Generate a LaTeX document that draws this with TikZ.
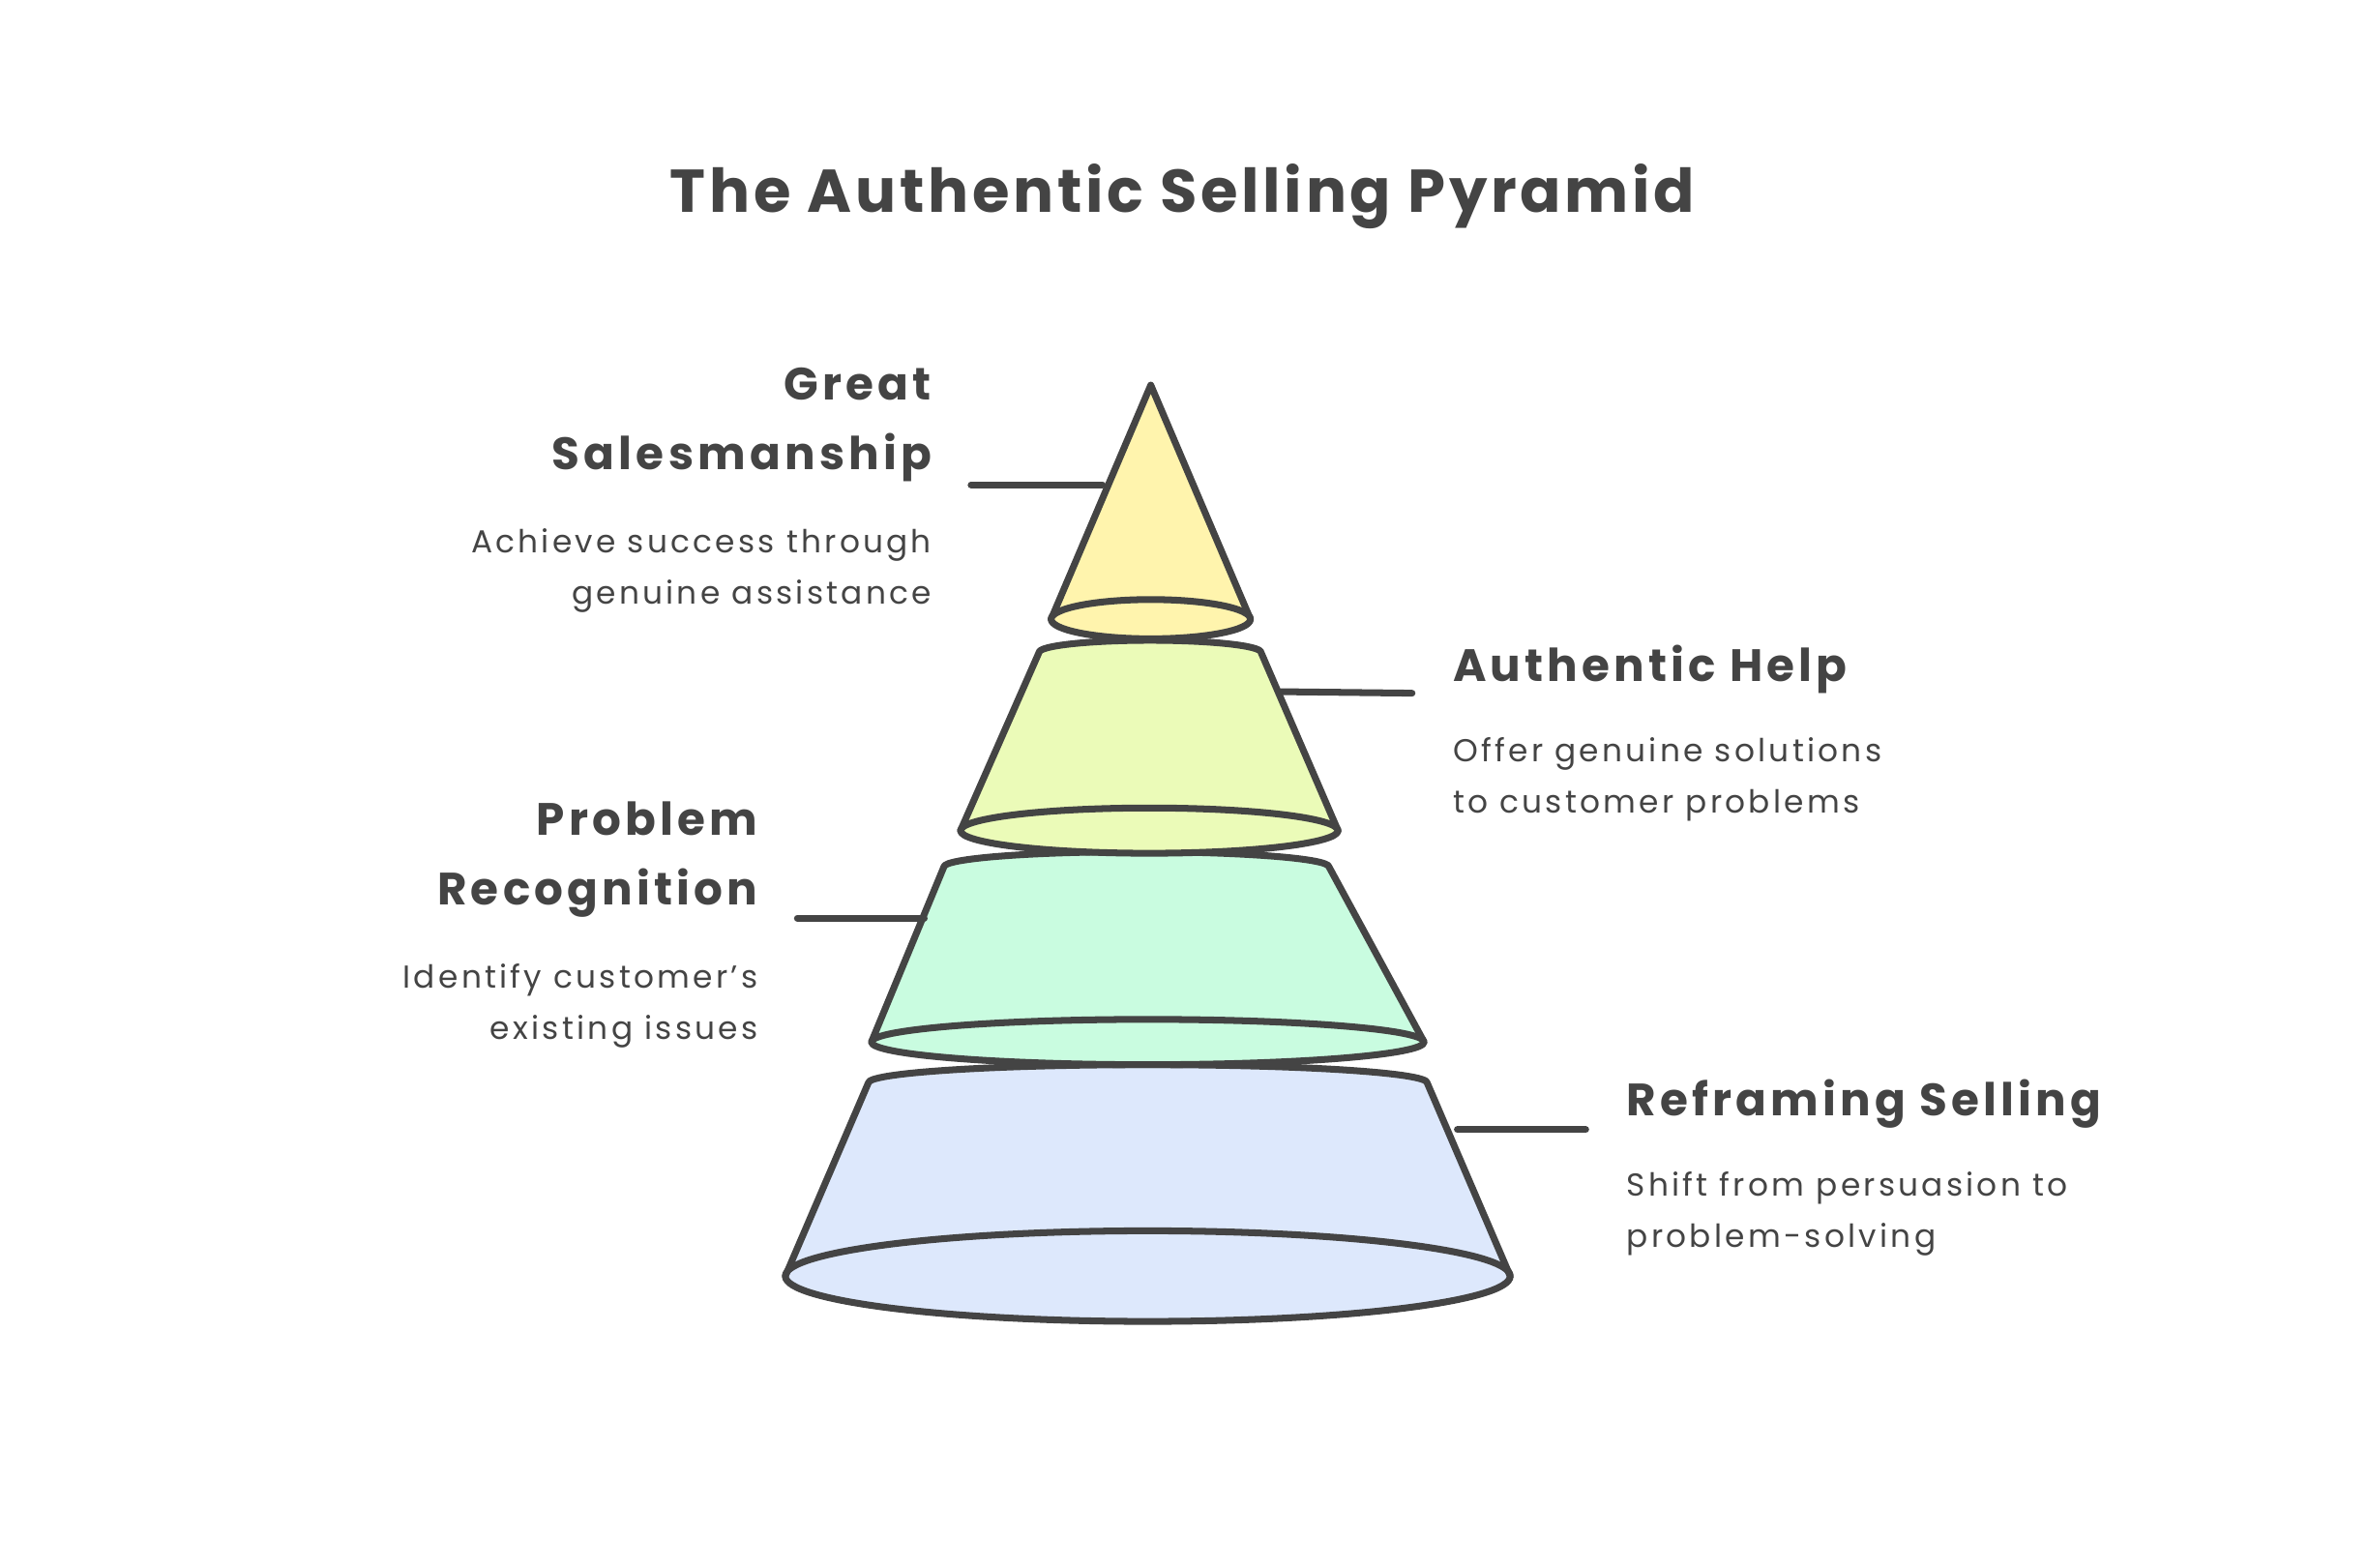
\documentclass[tikz,border=0pt]{standalone}
\usepackage{fontspec}
\setmainfont{Poppins}
\definecolor{ln}{HTML}{444444}
\definecolor{cA}{HTML}{FFF4AD}
\definecolor{cB}{HTML}{EBFBB8}
\definecolor{cC}{HTML}{C9FCE0}
\definecolor{cD}{HTML}{DDE8FC}
\begin{document}
\begin{tikzpicture}[x=1pt,y=-1pt,
  outl/.style={draw=ln,line width=4.5pt,line join=round,line cap=round},
  head/.style={font=\fontsize{30}{46}\selectfont\bfseries\addfontfeature{LetterSpace=9},text=ln,inner sep=0pt},
  desc/.style={font=\fontsize{21}{34}\selectfont\addfontfeature{LetterSpace=10},text=ln,inner sep=0pt}]
\useasboundingbox (0,0) rectangle (1568,1038);
\node[font=\fontsize{40}{44}\selectfont\bfseries\addfontfeature{LetterSpace=6},text=ln] (title) at (783,130) {The Authentic Selling Pyramid};
% bottom frustum
\fill[cD] (575,717) arc (180:360:185 and 12) -- (1000,845) arc (0:-180:240 and 30) -- cycle;
\fill[cD] (760,845) ellipse (240 and 30);
\draw[outl] (520,845) -- (575,717) arc (180:360:185 and 12) -- (1000,845);
\draw[outl] (760,845) ellipse (240 and 30);
% third
\fill[cC] (625,574) arc (180:360:127.5 and 10) -- (943,690) arc (0:-180:183 and 15) -- cycle;
\draw[outl] (577,690) -- (625,574) arc (180:360:127.5 and 10) -- (943,690);
\draw[outl,fill=cC] (760,690) ellipse (183 and 15);
% second
\fill[cB] (688,432) arc (180:360:73.5 and 8) -- (886,550) arc (0:-180:125 and 15) -- cycle;
\draw[outl] (636,550) -- (688,432) arc (180:360:73.5 and 8) -- (886,550);
\draw[outl,fill=cB] (761,550) ellipse (125 and 15);
% top cone
\fill[cA] (762,255) -- (828,410) arc (0:-180:66 and 13) -- cycle;
\draw[outl] (696,410) -- (762,255) -- (828,410);
\draw[outl,fill=cA] (762,410) ellipse (66 and 13);
% connector anchors
\coordinate (p1) at (730,321);
\coordinate (p2) at (848,458);
\coordinate (p3) at (612,608);
\coordinate (p4) at (965,748);
% labels
\node[head,anchor=east,align=right] (h1) at (617,281) {Great\\Salesmanship};
\node[desc,anchor=north east,align=right] (d1) at (617,350) {Achieve success through\\genuine assistance};
\node[head,anchor=west] (h2) at (962,443) {Authentic Help};
\node[desc,anchor=north west,align=left] (d2) at (962,488) {Offer genuine solutions\\to customer problems};
\node[head,anchor=east,align=right] (h3) at (502,569) {Problem\\Recognition};
\node[desc,anchor=north east,align=right] (d3) at (502,638) {Identify customer's\\existing issues};
\node[head,anchor=west] (h4) at (1077,731) {Reframing Selling};
\node[desc,anchor=north west,align=left] (d4) at (1077,776) {Shift from persuasion to\\problem-solving};
\coordinate (q1) at (643,321);
\coordinate (q2) at (935,459);
\coordinate (q3) at (528,608);
\coordinate (q4) at (1050,748);
\draw[outl] (q1) -- (p1);
\draw[outl] (p2) -- (q2);
\draw[outl] (q3) -- (p3);
\draw[outl] (p4) -- (q4);
\end{tikzpicture}
\end{document}
